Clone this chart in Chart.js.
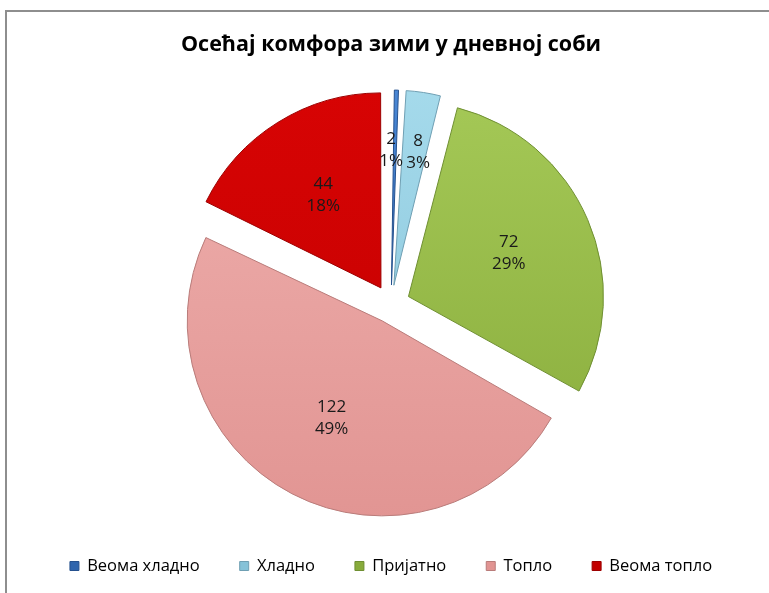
<!DOCTYPE html>
<html>
<head>
<meta charset="utf-8">
<script src="https://cdn.jsdelivr.net/npm/chart.js@4.4.1/dist/chart.umd.min.js"></script>
<style>
  html, body { margin: 0; padding: 0; background: #fff; }
  #frame { position: absolute; left: 5px; top: 10px; width: 800px; height: 620px; border: 2px solid #8e8e8e; }
  #wrap { position: absolute; left: 0; top: 0; width: 769px; height: 593px; }
</style>
</head>
<body>
<div id="frame"></div>
<div id="wrap"><canvas id="comfortChart" width="769" height="593"></canvas></div>
<script>
const categories = ["Веома хладно", "Хладно", "Пријатно", "Топло", "Веома топло"];
const counts = [2, 8, 72, 122, 44];
const lightShades = ["#4a88d6", "#a6dbec", "#a5c957", "#eeaeac", "#d80404"];
const darkShades = ["#2f65ad", "#86c2d8", "#88ab3b", "#e19492", "#c20000"];
const edgeColors = ["#25518e", "#6f9fb3", "#6f8f32", "#b97c7a", "#9c0000"];

// top-to-bottom shading similar to the office bevel look
function shade(context) {
  const chart = context.chart;
  const { chartArea } = chart;
  const i = context.dataIndex;
  if (!chartArea || i === undefined) return lightShades[i || 0];
  const g = chart.ctx.createLinearGradient(0, chartArea.top, 0, chartArea.bottom);
  g.addColorStop(0, lightShades[i]);
  g.addColorStop(1, darkShades[i]);
  return g;
}

// chart.js grows exploded slices by offset*(1 - sin(angle)); keep every slice at the same radius
const evenRadius = {
  id: "evenRadius",
  beforeDatasetsDraw(chart) {
    chart.getDatasetMeta(0).data.forEach((arc) => {
      if (arc.$baseR === undefined) arc.$baseR = arc.outerRadius;
      const off = (arc.options.offset || 0) / 4;
      const fix = 1 - Math.sin(Math.min(Math.PI, arc.circumference || 0));
      arc.outerRadius = arc.$baseR - off * fix;
    });
  },
};

// value + percent label inside each slice (like excel data labels)
const sliceLabels = {
  id: "sliceLabels",
  afterDatasetsDraw(chart) {
    const { ctx } = chart;
    const meta = chart.getDatasetMeta(0);
    const total = counts.reduce((s, v) => s + v, 0);
    const spots = meta.data.map((arc) => {
      const mid = (arc.startAngle + arc.endAngle) / 2;
      const narrow = arc.endAngle - arc.startAngle < 0.3;
      // chart.js draws arcs shifted by offset / 4
      const off = (arc.options.offset || 0) / 4;
      const r = arc.$baseR * (narrow ? 0.69 : 0.56) + off;
      return { x: arc.x + Math.cos(mid) * r, y: arc.y + Math.sin(mid) * r, narrow };
    });
    // push neighbouring small-slice labels apart so they don't collide
    for (let i = 1; i < spots.length; i++) {
      const a = spots[i - 1], b = spots[i];
      const gap = b.x - a.x;
      if (a.narrow && b.narrow && gap < 27) {
        a.x -= (27 - gap) / 2;
        b.x += (27 - gap) / 2;
      }
    }
    ctx.save();
    ctx.font = "17px 'Open Sans', sans-serif";
    ctx.fillStyle = "#1a1a1a";
    ctx.textAlign = "center";
    ctx.textBaseline = "middle";
    spots.forEach((s, i) => {
      const pct = Math.round((counts[i] / total) * 100) + "%";
      ctx.fillText(String(counts[i]), s.x, s.y - 11);
      ctx.fillText(pct, s.x, s.y + 11);
    });
    ctx.restore();
  },
};

new Chart(document.getElementById("comfortChart"), {
  type: "pie",
  data: {
    labels: categories,
    datasets: [
      {
        data: counts,
        backgroundColor: shade,
        borderColor: edgeColors,
        borderWidth: 1,
        offset: 76,
        hoverOffset: 0,
        clip: false,
      },
    ],
  },
  options: {
    responsive: false,
    animation: false,
    radius: 195,
    layout: { padding: { left: 13, right: 0, top: 0, bottom: 8.75 } },
    plugins: {
      title: {
        display: true,
        text: "Осећај комфора зими у дневној соби",
        color: "#000",
        font: { family: "'Open Sans', sans-serif", size: 21.5, weight: "bold" },
        padding: { top: 31.5, bottom: 33 },
      },
      legend: {
        position: "bottom",
        labels: {
          color: "#000",
          font: { family: "'Open Sans', sans-serif", size: 16.5 },
          boxWidth: 9,
          boxHeight: 9,
          padding: 40,
          generateLabels(chart) {
            return categories.map((name, i) => ({
              text: name,
              fillStyle: darkShades[i],
              strokeStyle: edgeColors[i],
              lineWidth: 1,
              index: i,
            }));
          },
        },
      },
      tooltip: { enabled: false },
    },
  },
  plugins: [evenRadius, sliceLabels],
});
</script>
</body>
</html>
